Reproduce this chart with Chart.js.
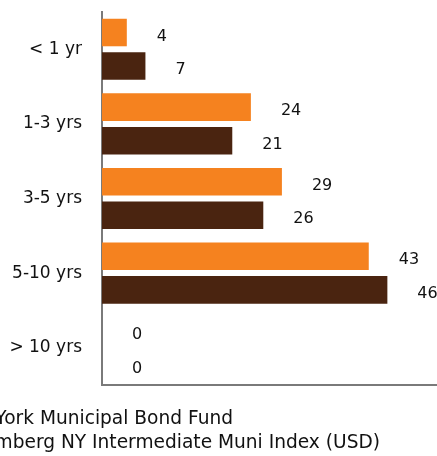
<!DOCTYPE html>
<html>
<head>
<meta charset="utf-8">
<script src="https://cdn.jsdelivr.net/npm/chart.js@4/dist/chart.umd.min.js"></script>
<style>
    html, body { margin: 0; padding: 0; background: #fff; }
    #wrap { width: 437px; height: 456px; position: relative; }
</style>
</head>
<body>
<div id="wrap"><canvas id="maturityChart"></canvas></div>
<script>
// Datos del grafico
const categorias = ['< 1 yr', '1-3 yrs', '3-5 yrs', '5-10 yrs', '> 10 yrs'];
const fondo = [4, 24, 29, 43, 0];
const indice = [7, 21, 26, 46, 0];
const nombresSeries = ['New York Municipal Bond Fund', 'Bloomberg NY Intermediate Muni Index (USD)'];
const coloresSeries = ['#f5821f', '#4a2410'];

const fuente = 'DejaVu Sans';
const colorTexto = '#111';
const colorEje = '#7a7a7a';

// Etiquetas de valor a la derecha de cada barra
const etiquetasValor = {
    id: 'etiquetasValor',
    afterDatasetsDraw(chart) {
        const ctx = chart.ctx;
        ctx.save();
        ctx.font = '16px "' + fuente + '"';
        ctx.fillStyle = colorTexto;
        ctx.textAlign = 'left';
        ctx.textBaseline = 'middle';
        chart.data.datasets.forEach(function (ds, i) {
            chart.getDatasetMeta(i).data.forEach(function (bar, j) {
                ctx.fillText(String(ds.data[j]), bar.x + 30, bar.y + 4);
            });
        });
        ctx.restore();
    }
};

// Leyenda recortada por el borde izquierdo, como en la imagen
const leyendaRecortada = {
    id: 'leyendaRecortada',
    afterDraw(chart) {
        const ctx = chart.ctx;
        ctx.save();
        ctx.font = '18.6px "' + fuente + '"';
        ctx.fillStyle = colorTexto;
        ctx.textAlign = 'right';
        ctx.textBaseline = 'middle';
        ctx.fillText(nombresSeries[0], 233, 419);
        ctx.fillText(nombresSeries[1], 380, 443);
        ctx.restore();
    }
};

var ctxMaturity = document.getElementById('maturityChart').getContext('2d');
var maturityChart = new Chart(ctxMaturity, {
    type: 'bar',
    data: {
        labels: categorias,
        datasets: [{
            label: nombresSeries[0],
            data: fondo,
            backgroundColor: coloresSeries[0]
        }, {
            label: nombresSeries[1],
            data: indice,
            backgroundColor: coloresSeries[1]
        }]
    },
    options: {
        indexAxis: 'y',
        responsive: true,
        maintainAspectRatio: false,
        animation: false,
        layout: {
            padding: { top: 12, right: 0, left: 0, bottom: 0 }
        },
        datasets: {
            bar: {
                categoryPercentage: 0.9,
                barPercentage: 0.82
            }
        },
        plugins: {
            legend: { display: false },
            tooltip: { enabled: false }
        },
        scales: {
            x: {
                min: 0,
                max: 54,
                grid: { display: false, drawTicks: false },
                border: { display: true, color: colorEje, width: 2 },
                ticks: { display: false },
                afterFit: function (axis) { axis.height = 71; }
            },
            y: {
                grid: { display: false, drawTicks: false },
                border: { display: true, color: colorEje, width: 2 },
                ticks: {
                    padding: 20,
                    color: colorTexto,
                    font: { family: fuente, size: 17 }
                },
                afterFit: function (axis) {
                    axis.width = 102;
                    axis.paddingTop = 0;
                    axis.paddingBottom = 0;
                }
            }
        }
    },
    plugins: [etiquetasValor, leyendaRecortada]
});
</script>
</body>
</html>
